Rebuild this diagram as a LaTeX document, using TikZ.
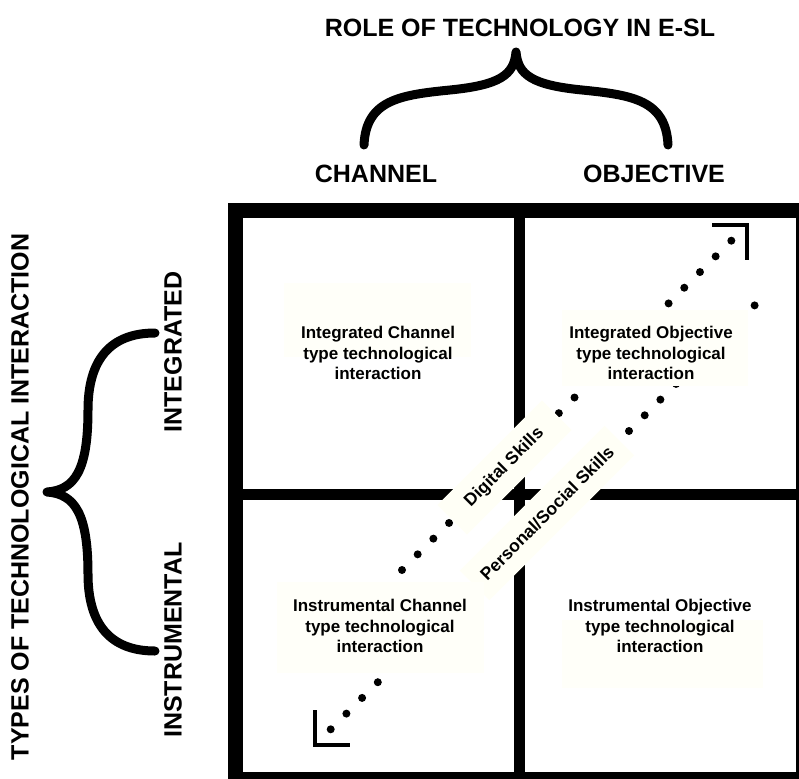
\documentclass[tikz,border=0pt]{standalone}
\usepackage{fontspec}
\setmainfont{Liberation Sans}
\usetikzlibrary{calc}
\definecolor{cream}{RGB}{255,255,246}
\definecolor{paper}{RGB}{255,255,249}

\begin{document}
\begin{tikzpicture}[x=1pt,y=-1pt,
  frame/.style = {line width=15pt},
  divider/.style = {line width=11pt},
  brace/.style = {line width=9pt, line cap=round, line join=round},
  cornermark/.style = {line width=3.5pt},
  head/.style = {font=\bfseries\fontsize{25}{30}\selectfont, inner sep=0pt},
  celltext/.style = {align=center, font=\bfseries\fontsize{17}{20.5}\selectfont, inner sep=0pt},
  skill/.style = {fill=cream, rotate=45, minimum height=42pt, inner sep=0pt, font=\bfseries\fontsize{17.5}{20}\selectfont}
  ]
\useasboundingbox (0,0) rectangle (799,778);
\clip (0,0) rectangle (799,778);

% headings and braces
\node[head] (role) at (520,28) {ROLE OF TECHNOLOGY IN E-SL};
\node[head] (channel) at (376,174) {CHANNEL};
\node[head] (objective) at (654,174) {OBJECTIVE};
\draw[brace] (364,145) .. controls (366,100) and (400,95) .. (450,90) .. controls (500,85) and (514,75) .. (516,52)
  .. controls (518,75) and (532,85) .. (582,90) .. controls (632,95) and (666,100) .. (668,145);

\node[head, rotate=90] (types) at (20,497) {TYPES OF TECHNOLOGICAL INTERACTION};
\node[head, rotate=90] (integrated) at (173,352) {INTEGRATED};
\node[head, rotate=90] (instrumental) at (173,640) {INSTRUMENTAL};
\draw[brace] (155,333) .. controls (110,333) and (88,360) .. (88,410) .. controls (88,470) and (75,490) .. (47,492)
  .. controls (75,494) and (88,514) .. (88,574) .. controls (88,624) and (110,651) .. (155,651);

% matrix
\draw[frame] (235.5,210.5) rectangle (803.5,779.5);
\draw[divider] (519.5,218) -- (519.5,772);
\draw[divider] (243,494) -- (796,494);

% dotted diagonals
\coordinate (d1a) at (402,570);
\coordinate (d1b) at (747,225);
\coordinate (d2a) at (315,745);
\coordinate (d2b) at (754.6,305.4);
\foreach \k in {0,...,21}
  \fill ($(d1a)!\k/22!(d1b)$) circle (4pt);
\foreach \k in {1,...,28}
  \fill ($(d2a)!\k/28!(d2b)$) circle (4pt);
\draw[cornermark] ($(d1b)+(-35,0)$) -- (d1b) -- ++(0,35);
\draw[cornermark] ($(d2a)+(0,-35)$) -- (d2a) -- ++(35,0);

\node[skill, minimum width=148pt] (digital) at (504.5,467.5) {Digital Skills};
\node[skill, minimum width=205pt] (social) at (547,513) {Personal/Social Skills};

% cells
\fill[paper] (284,283) rectangle (471,357);
\fill[paper] (562,310) rectangle (748,386);
\fill[paper] (277,582) rectangle (484,673);
\fill[paper] (562,620) rectangle (763,688);
\node[celltext] (intchannel) at (378,353) {Integrated Channel\\type technological\\interaction};
\node[celltext] (intobjective) at (651,353) {Integrated Objective\\type technological\\interaction};
\node[celltext] (inschannel) at (380,626) {Instrumental Channel\\type technological\\interaction};
\node[celltext] (insobjective) at (660,626) {Instrumental Objective\\type technological\\interaction};
\end{tikzpicture}
\end{document}
